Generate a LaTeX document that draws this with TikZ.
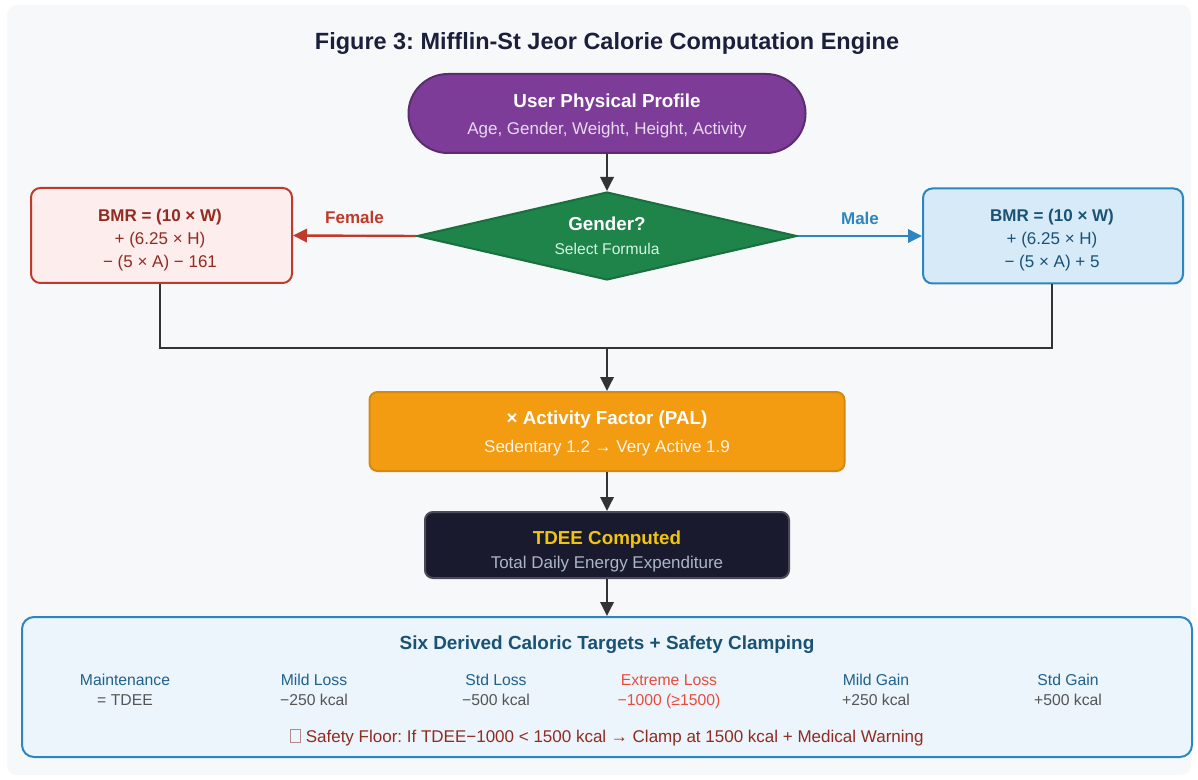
\documentclass[tikz,border=0pt]{standalone}
\usepackage{fontspec}
\setmainfont{Liberation Sans}
\frenchspacing
\usetikzlibrary{shapes.geometric,arrows.meta}
\definecolor{panelbg}{HTML}{F6F8FA}
\definecolor{titlec}{HTML}{1B1F3B}
\definecolor{purpF}{HTML}{7D3C98}
\definecolor{purpD}{HTML}{5B2C6F}
\definecolor{purpT}{HTML}{E8DAEF}
\definecolor{greenF}{HTML}{1E8449}
\definecolor{greenD}{HTML}{196F3D}
\definecolor{greenT}{HTML}{D5F5E3}
\definecolor{femF}{HTML}{FDEDEC}
\definecolor{femD}{HTML}{C0392B}
\definecolor{femT}{HTML}{922B21}
\definecolor{malF}{HTML}{D6EAF8}
\definecolor{malD}{HTML}{2E86C1}
\definecolor{malT}{HTML}{1A5276}
\definecolor{orF}{HTML}{F39C12}
\definecolor{orD}{HTML}{D68910}
\definecolor{orT}{HTML}{FEF5E7}
\definecolor{darkF}{HTML}{1A1A2E}
\definecolor{darkD}{HTML}{4A4A58}
\definecolor{gold}{HTML}{F1C40F}
\definecolor{darkT}{HTML}{AAB7C4}
\definecolor{botF}{HTML}{EBF5FB}
\definecolor{colL}{HTML}{1F618D}
\definecolor{colV}{HTML}{555555}
\definecolor{extr}{HTML}{E74C3C}
\definecolor{conn}{HTML}{333333}
\definecolor{tofu}{HTML}{B08A88}
\tikzset{
  shapebox/.style={draw, line width=1.5pt, inner sep=0pt},
  txt/.style={anchor=base, inner sep=0pt},
  tip/.style={-{Triangle[length=10.5pt,width=10pt]}},
  arr/.style={draw=conn, line width=1.8pt, tip},
  plainline/.style={draw=conn, line width=1.8pt},
  hd/.style={font=\bfseries\fontsize{14.1pt}{16pt}\selectfont},
  sub/.style={font=\fontsize{12.75pt}{15pt}\selectfont},
  col/.style={font=\fontsize{11.8pt}{14pt}\selectfont},
  edgelab/.style={above=4.5pt, font=\bfseries\fontsize{12.75pt}{15pt}\selectfont},
}
\begin{document}
\begin{tikzpicture}[x=0.75pt,y=-0.75pt]
\useasboundingbox (0,0) rectangle (1198,780);
\fill[white] (0,0) rectangle (1198,780);
\fill[panelbg, rounded corners=7.5pt] (7,5) rectangle (1191,775);

% title
\node[txt, text=titlec, font=\bfseries\fontsize{17.6pt}{20pt}\selectfont] (title) at (607,49.5) {Figure 3: Mifflin-St Jeor Calorie Computation Engine};

% profile
\node[shapebox, fill=purpF, draw=purpD, rounded corners=29.6pt, minimum width=297.75pt, minimum height=59.25pt] (profile) at (607,113.5) {};
\node[txt, hd, text=white] (profileA) at (607,107.8) {User Physical Profile};
\node[txt, sub, text=purpT] (profileB) at (607,135) {Age, Gender, Weight, Height, Activity};

% gender diamond
\node[shape=diamond, draw=greenD, fill=greenF, line width=1.5pt, inner sep=0pt, minimum width=285pt, minimum height=66pt] (gender) at (607,236) {};
\node[txt, hd, text=white] (genderA) at (607,230.8) {Gender?};
\node[txt, font=\fontsize{11.7pt}{14pt}\selectfont, text=greenT] (genderB) at (607,254.6) {Select Formula};

% female
\node[shapebox, fill=femF, draw=femD, rounded corners=7pt, minimum width=195.75pt, minimum height=71.25pt] (female) at (161.5,235.5) {};
\node[txt, font=\bfseries\fontsize{12.75pt}{15pt}\selectfont, text=femT] (femA) at (160,222) {BMR = (10 × W)};
\node[txt, sub, text=femT] (femB) at (160,245) {+ (6.25 × H)};
\node[txt, sub, text=femT] (femC) at (160,268) {− (5 × A) − 161};

% male
\node[shapebox, fill=malF, draw=malD, rounded corners=7pt, minimum width=195pt, minimum height=71.25pt] (male) at (1053,236) {};
\node[txt, font=\bfseries\fontsize{12.75pt}{15pt}\selectfont, text=malT] (malA) at (1052,222) {BMR = (10 × W)};
\node[txt, sub, text=malT] (malB) at (1052,245) {+ (6.25 × H)};
\node[txt, sub, text=malT] (malC) at (1052,268) {− (5 × A) + 5};

% activity
\node[shapebox, fill=orF, draw=orD, rounded corners=6pt, minimum width=356.25pt, minimum height=59.25pt] (pal) at (607,431.5) {};
\node[txt, hd, text=white] (palA) at (607,424) {× Activity Factor (PAL)};
\node[txt, sub, text=orT] (palB) at (607,452) {Sedentary 1.2 → Very Active 1.9};

% tdee
\node[shapebox, fill=darkF, draw=darkD, rounded corners=6pt, minimum width=273pt, minimum height=49.5pt] (tdee) at (607,545) {};
\node[txt, hd, text=gold] (tdeeA) at (607,544) {TDEE Computed};
\node[txt, sub, text=darkT] (tdeeB) at (607,568) {Total Daily Energy Expenditure};

% bottom
\node[shapebox, fill=botF, draw=malD, rounded corners=9pt, minimum width=877.5pt, minimum height=105pt] (targets) at (607,687) {};
\node[txt, font=\bfseries\fontsize{14.2pt}{16pt}\selectfont, text=malT] (targetsT) at (607,649) {Six Derived Caloric Targets + Safety Clamping};

\node[txt, col, text=colL] (c1a) at (125,685) {Maintenance};
\node[txt, col, text=colV] (c1b) at (125,705) {= TDEE};
\node[txt, col, text=colL] (c2a) at (314,685) {Mild Loss};
\node[txt, col, text=colV] (c2b) at (314,705) {−250 kcal};
\node[txt, col, text=colL] (c3a) at (496,685) {Std Loss};
\node[txt, col, text=colV] (c3b) at (496,705) {−500 kcal};
\node[txt, col, text=extr] (c4a) at (669,685) {Extreme Loss};
\node[txt, col, text=extr] (c4b) at (669,705) {−1000 (≥1500)};
\node[txt, col, text=colL] (c5a) at (876,685) {Mild Gain};
\node[txt, col, text=colV] (c5b) at (876,705) {+250 kcal};
\node[txt, col, text=colL] (c6a) at (1068,685) {Std Gain};
\node[txt, col, text=colV] (c6b) at (1068,705) {+500 kcal};

\node[txt, sub, text=femT] (safety) at (607,742) {{\color{tofu}\fboxsep=0pt\fboxrule=0.5pt\fbox{\rule{0pt}{9pt}\hspace{7pt}}}\ Safety Floor: If TDEE−1000 < 1500 kcal → Clamp at 1500 kcal + Medical Warning};

% connectors
\coordinate (merge) at (607,348);
\draw[arr] (profile.south) -- (gender.north);
\draw[draw=femD, line width=1.8pt, tip] (gender.west) -- node[pos=0.5, edgelab, text=femD] {Female} (female.east);
\draw[draw=malD, line width=1.8pt, tip] (gender.east) -- node[pos=0.5, edgelab, text=malD] {Male} (male.west);
\draw[plainline] (female.south -| femA) |- (merge) -| (male.south -| malA);
\draw[arr] (merge) -- (pal.north);
\draw[arr] (pal.south) -- (tdee.north);
\draw[arr] (tdee.south) -- (targets.north);
\end{tikzpicture}
\end{document}
